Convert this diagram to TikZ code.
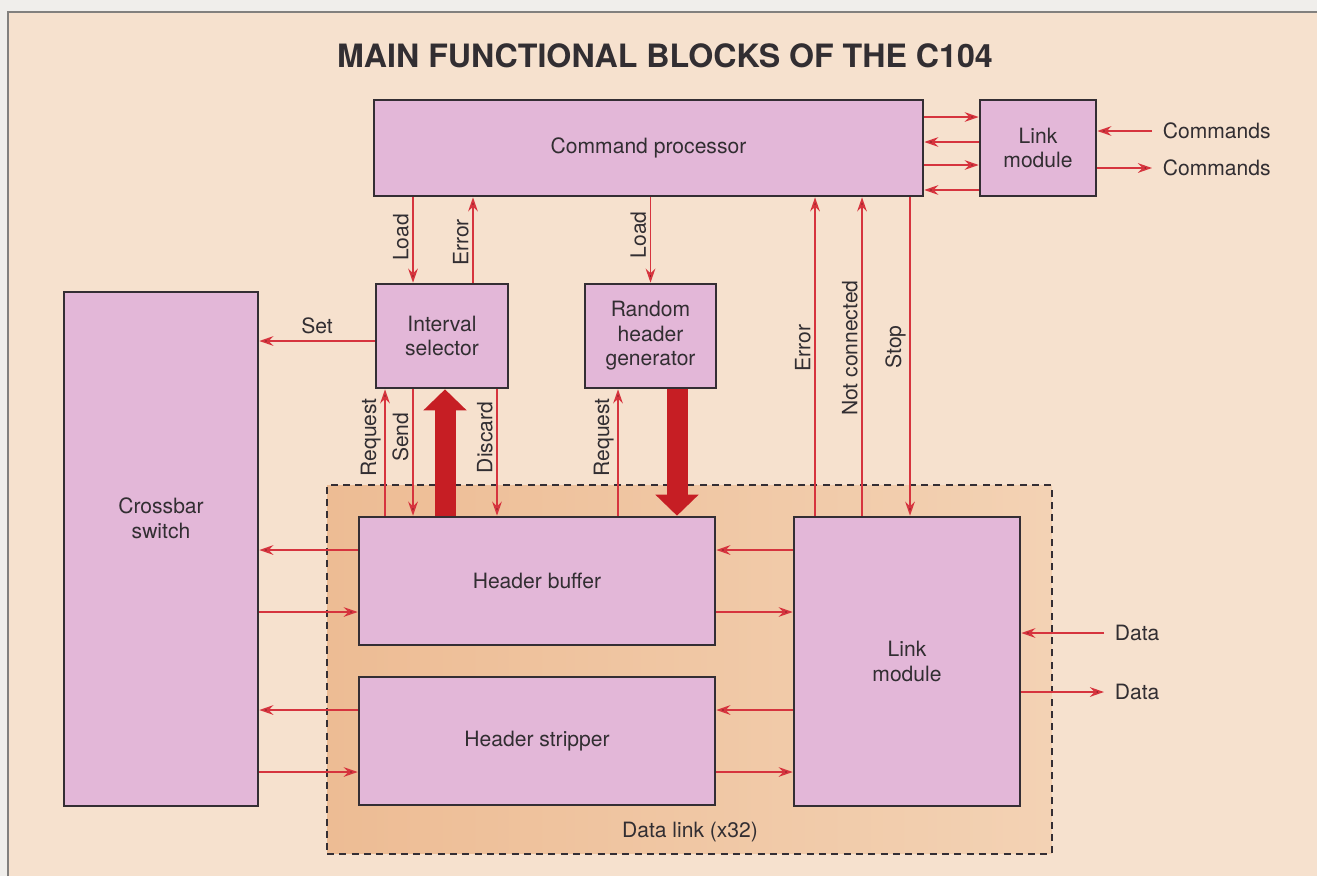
\documentclass[tikz,border=0pt]{standalone}
\usepackage{fontspec}
\setmainfont{TeX Gyre Heros}
\usetikzlibrary{arrows.meta}

\definecolor{margin}{RGB}{240,238,235}
\definecolor{paper}{RGB}{246,225,206}
\definecolor{framegray}{RGB}{130,128,126}
\definecolor{linkleft}{RGB}{237,188,148}
\definecolor{linkright}{RGB}{243,210,180}
\definecolor{blockfill}{RGB}{227,183,216}
\definecolor{edgegray}{RGB}{52,46,52}
\definecolor{sigred}{RGB}{214,52,62}
\definecolor{busred}{RGB}{198,30,36}
\definecolor{ink}{RGB}{50,46,50}

\tikzset{
  block/.style={shape=rectangle,draw=edgegray,fill=blockfill,line width=1.5pt,text=ink,align=center,inner sep=0pt},
  sig/.style={draw=sigred,line width=1pt},
  bus/.style={draw=busred,line width=0.42cm,-{Triangle[width=0.84cm 0 0,length=0.42cm 0 0]}},
  vlab/.style={rotate=90,anchor=south,text=ink,inner sep=2pt},
  lab/.style={text=ink}
}

\begin{document}
\begin{tikzpicture}[x=0.02cm,y=-0.02cm,font=\fontsize{12}{14}\selectfont,>={Stealth[length=8pt,width=5.5pt]}]
\useasboundingbox (0,0) rectangle (1317,876);
\fill[margin] (0,0) rectangle (1317,876);
\fill[paper] (8,12) rectangle (1317,876);
\draw[framegray,line width=0.8pt] (8,876) -- (8,12) -- (1317,12);

\node(title) at (665,56)[font=\fontsize{18.3}{20}\selectfont\bfseries,text=ink] {MAIN FUNCTIONAL BLOCKS OF THE C104};

% data link area (repeated 32 times)
\node(datalink) at (689.5,669.5)[shape=rectangle,draw=edgegray,dashed,dash pattern=on 4pt off 3pt,line width=0.7pt,left color=linkleft,right color=linkright,minimum width=14.5cm,minimum height=7.38cm] {};
\node(dltext) at (690,832)[lab] {Data link (x32)};

\node(cmd) at (648.5,148)[block,minimum width=10.98cm,minimum height=1.92cm] {Command processor};
\node(toplink) at (1038,148)[block,minimum width=2.32cm,minimum height=1.92cm] {Link\\module};
\node(intsel) at (442,336)[block,minimum width=2.64cm,minimum height=2.08cm] {Interval\\selector};
\node(randgen) at (650.5,336)[block,minimum width=2.62cm,minimum height=2.08cm] {Random\\header\\generator};
\node(xbar) at (161,549)[block,minimum width=3.88cm,minimum height=10.28cm,label={[align=center,text=ink,yshift=0.62cm]center:Crossbar\\switch}] {};
\node(hbuf) at (537,581)[block,minimum width=7.12cm,minimum height=2.56cm] {Header buffer};
\node(hstrip) at (537,741)[block,minimum width=7.12cm,minimum height=2.56cm] {Header stripper};
\node(linkmod) at (907,661.5)[block,minimum width=4.52cm,minimum height=5.78cm] {Link\\module};

\node(cmdin) at (1152,131)[lab,anchor=west,inner sep=6pt] {Commands};
\node(cmdout) at (1152,168)[lab,anchor=west,inner sep=6pt] {Commands};
\node(datain) at (1104,633)[lab,anchor=west,inner sep=6pt] {Data};
\node(dataout) at (1104,692)[lab,anchor=west,inner sep=6pt] {Data};

\path [sig]
  ([yshift=0.62cm]cmd.east)                  edge[->]                          ([yshift=0.62cm]cmd.east -| toplink.west)
  ([yshift=0.12cm]cmd.east -| toplink.west)  edge[->]                          ([yshift=0.12cm]cmd.east)
  ([yshift=-0.34cm]cmd.east)                 edge[->]                          ([yshift=-0.34cm]cmd.east -| toplink.west)
  ([yshift=-0.84cm]cmd.east -| toplink.west) edge[->]                          ([yshift=-0.84cm]cmd.east)
  (cmdin.west)                               edge[->]                          (cmdin.west -| toplink.east)
  (cmdout.west -| toplink.east)              edge[->]                          (cmdout.west);

\path [sig]
  ([xshift=-0.58cm]intsel.north |- cmd.south) edge[->] node[vlab,pos=0.47] {Load}  ([xshift=-0.58cm]intsel.north)
  ([xshift=0.62cm]intsel.north)               edge[->] node[vlab,pos=0.47] {Error} ([xshift=0.62cm]intsel.north |- cmd.south)
  (randgen.north |- cmd.south)                edge[->] node[vlab,pos=0.44] {Load}  (randgen.north)
  ([yshift=-0.1cm]intsel.west)                edge[->] node[lab,above]     {Set}   ([yshift=-0.1cm]intsel.west -| xbar.east);

\path [sig]
  ([xshift=-1.14cm]intsel.south |- hbuf.north) edge[->] node[vlab,pos=0.62] {Request} ([xshift=-1.14cm]intsel.south)
  ([xshift=-0.58cm]intsel.south)               edge[->] node[vlab,pos=0.38] {Send}    ([xshift=-0.58cm]intsel.south |- hbuf.north)
  ([xshift=1.1cm]intsel.south)                 edge[->] node[vlab,pos=0.38] {Discard} ([xshift=1.1cm]intsel.south |- hbuf.north)
  ([xshift=-0.65cm]randgen.south |- hbuf.north) edge[->] node[vlab,pos=0.62] {Request} ([xshift=-0.65cm]randgen.south)
  ([xshift=0.06cm]intsel.south |- hbuf.north)  edge[bus]                              ([xshift=0.06cm]intsel.south)
  ([xshift=0.53cm]randgen.south)               edge[bus]                              ([xshift=0.53cm]randgen.south |- hbuf.north);

\path [sig]
  ([xshift=-1.84cm]linkmod.north)              edge[->] node[vlab,pos=0.526] {Error}         ([xshift=-1.84cm]linkmod.north |- cmd.south)
  ([xshift=-0.9cm]linkmod.north)               edge[->] node[vlab,pos=0.526] {Not connected} ([xshift=-0.9cm]linkmod.north |- cmd.south)
  ([xshift=0.06cm]linkmod.north |- cmd.south)  edge[->] node[vlab,pos=0.47]  {Stop}          ([xshift=0.06cm]linkmod.north);

\path [sig]
  ([yshift=0.62cm]hbuf.west)                   edge[->] ([yshift=0.62cm]hbuf.west -| xbar.east)
  ([yshift=-0.62cm]hbuf.west -| xbar.east)     edge[->] ([yshift=-0.62cm]hbuf.west)
  ([yshift=0.62cm]hstrip.west)                 edge[->] ([yshift=0.62cm]hstrip.west -| xbar.east)
  ([yshift=-0.62cm]hstrip.west -| xbar.east)   edge[->] ([yshift=-0.62cm]hstrip.west)
  ([yshift=0.62cm]hbuf.east -| linkmod.west)   edge[->] ([yshift=0.62cm]hbuf.east)
  ([yshift=-0.62cm]hbuf.east)                  edge[->] ([yshift=-0.62cm]hbuf.east -| linkmod.west)
  ([yshift=0.62cm]hstrip.east -| linkmod.west) edge[->] ([yshift=0.62cm]hstrip.east)
  ([yshift=-0.62cm]hstrip.east)                edge[->] ([yshift=-0.62cm]hstrip.east -| linkmod.west)
  (datain.west)                                edge[->] (datain.west -| linkmod.east)
  (dataout.west -| linkmod.east)               edge[->] (dataout.west);
\end{tikzpicture}
\end{document}
